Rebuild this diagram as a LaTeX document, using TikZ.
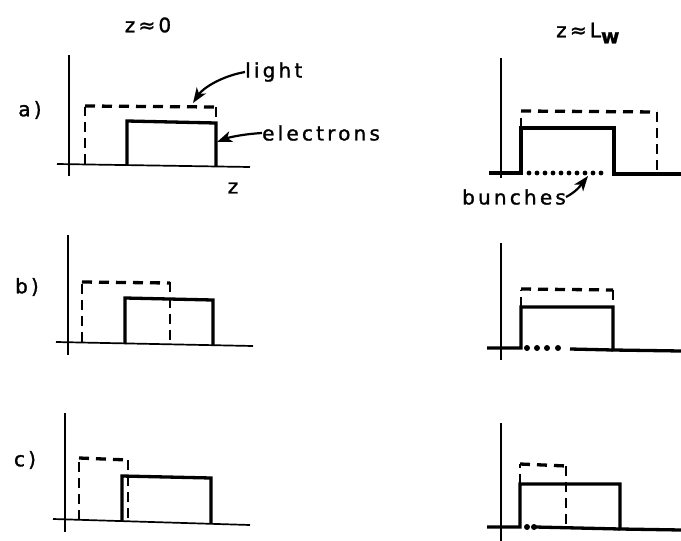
\documentclass[tikz,border=0pt]{standalone}
\usepackage{fontspec}
\setmainfont{DejaVu Sans}[FakeBold=1.3]
\usetikzlibrary{arrows.meta}
\begin{document}
\begin{tikzpicture}[x=1pt,y=-1pt,
  axis/.style={line width=1.7pt},
  elec/.style={line width=3.3pt, line join=miter},
  lightd/.style={line width=3.3pt, dash pattern=on 10pt off 7pt},
  lightv/.style={line width=2pt, dash pattern=on 10pt off 6pt},
  lbl/.style={font=\fontsize{20}{20}\selectfont\addfontfeature{LetterSpace=16}, inner sep=0pt},
  pointer/.style={line width=2.2pt, -{Stealth[length=15pt,width=11pt,inset=4pt]}}]
\useasboundingbox (0,0) rectangle (681,541);
% headers
\node[lbl] (h1) at (148,25) {z≈0};
\node[lbl, anchor=west] (h2) at (556,33) {z≈L\raisebox{-6pt}{\textbf{w}}};
% row labels
\node[lbl] (la) at (30,110) {a)};
\node[lbl] (lb) at (27,287) {b)};
\node[lbl] (lc) at (25,460) {c)};
% ---------- a) left
\draw[axis] (69,55) -- (69,176);
\draw[axis] (57,164) -- (250,167);
\draw[lightv] (85,164) -- (85,107);
\draw[lightd] (85,106) -- (216,107);
\draw[lightv] (216,107) -- (216,164);
\draw[elec] (127,165) -- (127,121) -- (216,123) -- (216,166);
\node[lbl, anchor=west] (tl) at (245,72) {light};
\node[lbl, anchor=west] (te) at (262,133) {electrons};
\node[lbl] (tz) at (233,188) {z};
\coordinate (pl) at (193,103);
\coordinate (pe) at (217,142);
\draw[pointer] (tl.west) .. controls (222,76) and (203,88) .. (pl);
\draw[pointer] (te.west) .. controls (245,134) and (230,137) .. (pe);
% ---------- a) right
\draw[axis] (501,58) -- (501,178);
\draw[elec] (489,173) -- (521,173) -- (521,128) -- (614,128) -- (614,174) -- (681,174);
\draw[lightv] (521,128) -- (521,112);
\draw[lightd] (521,111) -- (657,112);
\draw[lightv] (657,112) -- (657,174);
\foreach \x in {529,537,...,601} \fill (\x,173) circle (2.4pt);
\node[lbl] (tb) at (514,197) {bunches};
\coordinate (pb) at (588,176);
\draw[pointer] (tb.east) .. controls (576,192) and (581,185) .. (pb);
% ---------- b) left
\draw[axis] (68,235) -- (68,355);
\draw[axis] (56,342) -- (253,346);
\draw[lightv] (82,342) -- (82,283);
\draw[lightd] (82,282) -- (170,283);
\draw[lightv] (170,282) -- (170,344);
\draw[elec] (125,344) -- (125,298) -- (213,300) -- (213,345);
% ---------- b) right
\draw[axis] (501,243) -- (501,360);
\draw[elec] (487,348) -- (521,348) -- (521,307) -- (613,307) -- (613,350) -- (681,351);
\draw[elec] (570,349) -- (613,350);
\draw[lightv] (521,307) -- (521,290);
\draw[lightd] (521,289) -- (613,290);
\draw[lightv] (613,290) -- (613,302);
\foreach \x in {527,537,547,558} \fill (\x,348) circle (3pt);
% ---------- c) left
\draw[axis] (65,413) -- (65,532);
\draw[axis] (53,519) -- (250,525);
\draw[lightv] (79,520) -- (79,459);
\draw[lightd] (79,458) -- (128,460);
\draw[lightv] (128,460) -- (128,521);
\draw[elec] (122,521) -- (122,476) -- (211,478) -- (211,523);
% ---------- c) right
\draw[axis] (501,423) -- (501,541);
\draw[elec] (487,527) -- (520,527) -- (520,484) -- (620,484) -- (620,529) -- (681,530);
\draw[elec] (535,527) -- (620,529);
\draw[lightv] (520,484) -- (520,464);
\draw[lightd] (520,464) -- (566,466);
\draw[lightv] (566,466) -- (566,528);
\foreach \x in {527,534} \fill (\x,527) circle (3pt);
\end{tikzpicture}
\end{document}
